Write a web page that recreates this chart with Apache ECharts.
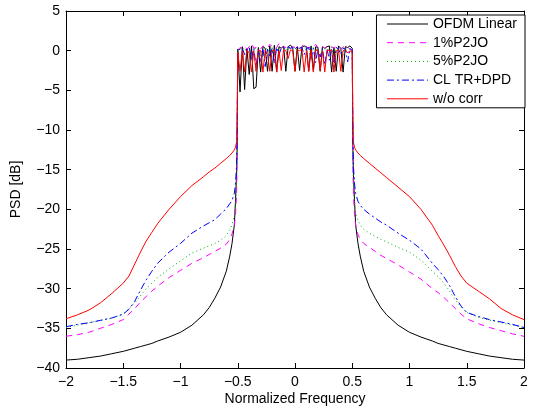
<!DOCTYPE html>
<html>
<head>
<meta charset="utf-8">
<script src="https://cdn.jsdelivr.net/npm/echarts@6/dist/echarts.min.js"></script>
<style>
html,body{margin:0;padding:0;background:#fff;}
#chart{width:533px;height:407px;}
</style>
</head>
<body>
<div id="chart"></div>
<script>
// Frequency grids
var freqLow = [-2, -1.9, -1.8, -1.7, -1.6, -1.5, -1.45, -1.4, -1.35, -1.3, -1.25, -1.2, -1.1, -1.0, -0.9, -0.8, -0.75, -0.7, -0.65, -0.6, -0.57, -0.55, -0.53, -0.52, -0.51, -0.505];
var freqBand = [-0.5, -0.48, -0.46, -0.44, -0.42, -0.4, -0.38, -0.36, -0.34, -0.32,
  -0.3, -0.28, -0.26, -0.24, -0.22, -0.2, -0.18, -0.16, -0.14, -0.12,
  -0.1, -0.08, -0.06, -0.04, -0.02, 0, 0.02, 0.04, 0.06, 0.08,
  0.1, 0.12, 0.14, 0.16, 0.18, 0.2, 0.22, 0.24, 0.26, 0.28,
  0.3, 0.32, 0.34, 0.36, 0.38, 0.4, 0.42, 0.44, 0.46, 0.48,
  0.5];
var freqHigh = [0.505, 0.51, 0.52, 0.53, 0.55, 0.57, 0.6, 0.65, 0.7, 0.75, 0.8, 0.9, 1.0, 1.1, 1.2, 1.25, 1.3, 1.35, 1.4, 1.45, 1.5, 1.6, 1.7, 1.8, 1.9, 2];

// OFDM Linear (black)
var linLow = [-39.0, -38.9, -38.7, -38.5, -38.2, -37.9, -37.7, -37.5, -37.3, -37.1, -36.9, -36.6, -36.1, -35.5, -34.6, -33.3, -32.4, -31.2, -29.8, -27.8, -25.9, -24.3, -22.0, -19.0, -15.5, -12.0];
var linBand = [0.2, -5.2, 0.5, -4.9, 0.3, -3.0, 0.6, -4.8, -4.6, 0.4,
  -2.7, 0.5, 0.3, -2.6, 0.6, -2.6, 0.7, -2.7, 0.5, 0.3,
  0.6, -2.6, 0.5, 0.7, 0.4, -2.6, 0.5, -2.5, 0.4, 0.6,
  0.5, -2.6, 0.6, -2.5, 0.5, 0.4, -2.6, 0.5, 0.3, 0.5,
  0.6, -2.7, 0.4, -2.6, 0.6, 0.3, -2.7, 0.5, 0.4, 0.6,
  0.3];
var linHigh = [-12.0, -15.5, -19.0, -22.0, -24.3, -25.9, -27.8, -29.8, -31.2, -32.4, -33.3, -34.6, -35.5, -36.1, -36.6, -36.9, -37.1, -37.3, -37.5, -37.7, -37.9, -38.2, -38.5, -38.7, -38.9, -39.0];

// 1%P2JO (magenta dashed)
var p1Low = [-36.0, -35.8, -35.5, -35.0, -34.5, -33.9, -33.2, -32.5, -31.7, -31.0, -30.3, -29.7, -28.6, -27.7, -26.8, -26.1, -25.7, -25.3, -24.9, -24.4, -23.8, -23.1, -22.0, -20.8, -18.0, -13.0];
var p1Band = [0.1, 0.4, 0.3, 0.6, 0.2, 0.5, 0.9, 0.3, 0.4, 0.5,
  0.2, 0.6, 0.4, 0.3, 0.8, 0.5, 0.2, 0.4, 0.9, 0.3,
  0.5, 0.4, 0.6, 0.3, 0.5, 0.4, 0.6, 0.3, 0.5, 0.9,
  0.4, 0.3, 0.6, 0.5, 0.8, 0.4, 0.2, 0.5, 0.3, 0.6,
  0.4, 0.5, 0.3, 0.6, 0.4, 0.2, 0.5, 0.3, 0.4, 0.2,
  0.1];
var p1High = [-13.0, -18.0, -20.8, -22.0, -23.2, -23.8, -24.3, -24.8, -25.3, -25.8, -26.2, -27.0, -27.9, -28.8, -30.0, -30.5, -31.1, -31.8, -32.5, -33.2, -33.8, -34.4, -34.9, -35.3, -35.7, -36.0];

// 5%P2JO (green dotted)
var p5Low = [-34.9, -34.6, -34.3, -34.0, -33.7, -33.2, -32.5, -31.8, -30.9, -30.0, -29.3, -28.6, -27.5, -26.5, -25.5, -24.9, -24.6, -24.3, -23.9, -23.3, -22.6, -21.9, -20.8, -19.5, -17.0, -12.0];
var p5Band = [0.0, 0.3, 0.1, 0.4, -0.5, 0.3, 0.2, 0.5, 0.1, 0.3,
  -0.6, 0.4, 0.2, 0.3, 0.1, 0.4, -0.4, 0.3, 0.2, 0.5,
  0.3, 0.1, 0.4, 0.2, 0.5, 0.3, 0.1, 0.4, 0.2, 0.3,
  0.5, 0.2, -0.3, 0.4, 0.1, 0.3, -0.8, 0.4, 0.2, 0.3,
  0.1, 0.4, -0.5, 0.3, 0.2, 0.4, -0.6, 0.3, 0.1, 0.2,
  0.0];
var p5High = [-12.0, -17.0, -19.5, -20.6, -21.4, -22.0, -22.5, -23.0, -23.4, -23.8, -24.1, -24.8, -25.4, -26.4, -27.8, -28.5, -29.3, -30.3, -31.4, -32.3, -33.0, -33.6, -34.0, -34.3, -34.6, -34.9];

// CL TR+DPD (blue dash-dot)
var clLow = [-34.8, -34.5, -34.3, -34.0, -33.7, -33.2, -32.6, -31.6, -30.2, -28.9, -27.8, -26.8, -25.4, -24.3, -23.0, -22.1, -21.7, -21.3, -20.6, -19.9, -19.3, -18.9, -18.0, -16.8, -14.5, -10.0];
var clBand = [0.0, 0.2, 0.3, -0.5, 0.2, 0.4, -1.2, 0.3, -2.0, 0.2,
  -1.5, 0.3, -2.0, 0.2, -0.8, 0.3, -1.6, 0.4, -0.5, 0.3,
  0.4, 0.2, 0.5, 0.3, 0.4, 0.2, 0.5, 0.3, 0.4, -0.5,
  0.3, 0.4, -1.0, 0.3, -1.5, 0.2, -0.8, 0.3, -1.8, 0.2,
  -1.2, 0.3, -2.0, 0.4, 0.2, -0.5, 0.3, 0.2, -1.4, 0.3,
  0.0];
var clHigh = [-10.0, -14.5, -16.8, -18.0, -19.0, -19.5, -20.0, -20.6, -21.1, -21.6, -22.0, -23.0, -23.9, -25.0, -26.8, -27.6, -28.5, -29.6, -31.0, -32.2, -33.0, -33.5, -33.9, -34.2, -34.5, -34.9];

// w/o corr (red)
var woLow = [-33.8, -33.3, -32.7, -31.8, -30.6, -29.3, -28.4, -26.9, -25.4, -24.0, -22.9, -21.8, -20.0, -18.4, -17.0, -15.9, -15.3, -14.8, -14.2, -13.6, -13.2, -12.9, -12.5, -12.2, -11.5, -8.0];
var woBand = [-0.2, -2.6, 0.0, -2.7, 0.1, -0.3, -2.7, 0.0, -2.6, 0.1,
  0.0, -2.7, 0.1, -0.5, -2.6, 0.0, 0.1, -2.7, 0.0, -2.5,
  0.1, 0.0, -1.0, 0.1, 0.0, -2.6, 0.1, 0.0, 0.2, -2.7,
  0.0, -2.6, 0.1, -2.7, 0.0, 0.1, -2.5, 0.0, -2.7, 0.1,
  0.0, 0.1, -2.7, 0.0, 0.1, -2.6, 0.0, 0.1, -0.3, 0.0,
  -0.2];
var woHigh = [-8.0, -11.5, -12.2, -12.5, -12.9, -13.2, -13.6, -14.2, -14.8, -15.4, -16.0, -17.2, -18.4, -20.0, -22.0, -23.3, -24.5, -25.8, -27.2, -28.4, -29.3, -30.3, -31.3, -32.5, -33.3, -33.9];

var seriesNames = ['OFDM Linear', '1%P2JO', '5%P2JO', 'CL TR+DPD', 'w/o corr'];

function build(lo, band, hi) {
  var f = freqLow.concat(freqBand, freqHigh);
  var v = lo.concat(band, hi);
  var out = [];
  for (var i = 0; i < f.length; i++) out.push([f[i], v[i]]);
  return out;
}

function minus(v) { return String(v).replace('-', '\u2212'); }

var chart = echarts.init(document.getElementById('chart'), null, {renderer: 'canvas'});
var FONT = 'Liberation Sans, Arial, Helvetica, sans-serif';
var FS = 14;

function mk(name, lo, band, hi, color, type) {
  return {
    name: name, type: 'line', data: build(lo, band, hi),
    showSymbol: false, symbol: 'none', animation: false,
    lineStyle: {color: color, width: 1, type: type},
    itemStyle: {color: color}
  };
}

var axisLineStyle = {show: true, onZero: false, lineStyle: {color: '#000', width: 1}};
var tickStyle = {show: true, inside: true, length: 5, lineStyle: {color: '#000'}};

chart.setOption({
  animation: false,
  backgroundColor: '#fff',
  textStyle: {fontFamily: FONT},
  grid: {left: 66, right: 9, top: 11, bottom: 39, containLabel: false, outerBoundsMode: 'none'},
  legend: {
    orient: 'vertical', right: 8, top: 15,
    backgroundColor: '#fff', borderColor: '#000', borderWidth: 1,
    padding: [2, 8, 2, 10],
    itemWidth: 41, itemHeight: 14, itemGap: 4.7,
    itemStyle: {opacity: 0},
    lineStyle: {width: 1},
    textStyle: {fontSize: FS, color: '#000', fontFamily: FONT},
    data: seriesNames
  },
  xAxis: [{
    type: 'value', min: -2, max: 2, interval: 0.5, position: 'bottom',
    name: 'Normalized Frequency', nameLocation: 'middle', nameGap: 24,
    nameMoveOverlap: false,
    nameTextStyle: {fontSize: FS, color: '#000'},
    axisLine: axisLineStyle, axisTick: tickStyle,
    axisLabel: {fontSize: FS, color: '#000', margin: 7, formatter: minus},
    splitLine: {show: false}
  }, {
    type: 'value', min: -2, max: 2, interval: 0.5, position: 'top',
    axisLine: axisLineStyle, axisTick: tickStyle,
    axisLabel: {show: false}, splitLine: {show: false}
  }],
  yAxis: [{
    type: 'value', min: -40, max: 5, interval: 5, position: 'left',
    name: 'PSD [dB]', nameLocation: 'middle', nameGap: 43,
    nameMoveOverlap: false,
    nameTextStyle: {fontSize: FS, color: '#000'},
    axisLine: axisLineStyle, axisTick: tickStyle,
    axisLabel: {fontSize: FS, color: '#000', margin: 6, formatter: minus},
    splitLine: {show: false}
  }, {
    type: 'value', min: -40, max: 5, interval: 5, position: 'right',
    axisLine: axisLineStyle, axisTick: tickStyle,
    axisLabel: {show: false}, splitLine: {show: false}
  }],
  series: [
    mk(seriesNames[0], linLow, linBand, linHigh, '#000000', 'solid'),
    mk(seriesNames[1], p1Low, p1Band, p1High, '#ff00ff', [6, 5]),
    mk(seriesNames[2], p5Low, p5Band, p5High, '#00b000', [1, 3]),
    mk(seriesNames[3], clLow, clBand, clHigh, '#0000ff', [7, 3, 2, 3]),
    mk(seriesNames[4], woLow, woBand, woHigh, '#ff0000', 'solid')
  ]
});
</script>
</body>
</html>
